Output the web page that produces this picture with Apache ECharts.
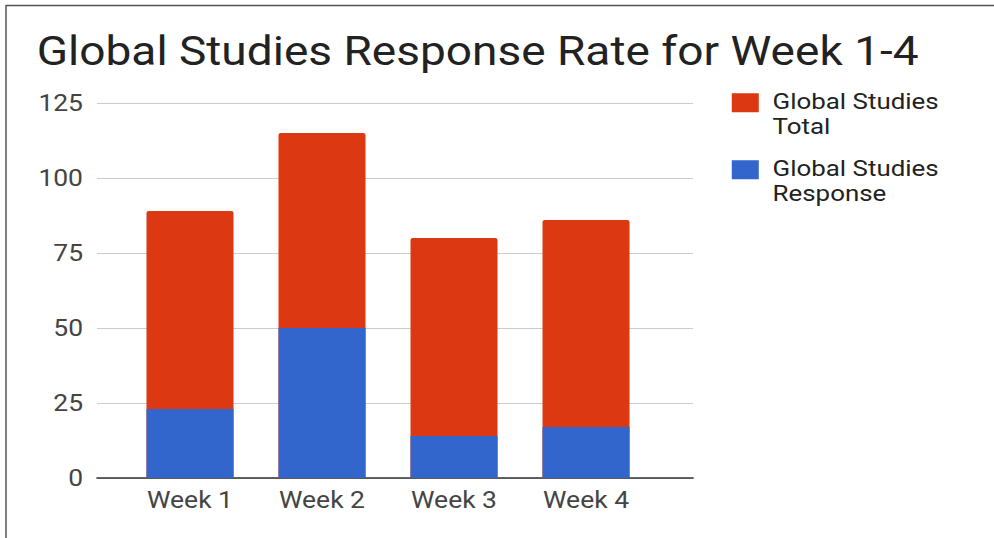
<!DOCTYPE html>
<html>
<head>
<meta charset="utf-8">
<script src="https://cdn.jsdelivr.net/npm/echarts@6/dist/echarts.min.js"></script>
<style>
  html, body { margin: 0; padding: 0; background: #fff; overflow: hidden; }
  /* the source screenshot is stretched sideways, so the chart is drawn narrower and widened */
  #chart { width: 864px; height: 538px; transform: scaleX(1.1505); transform-origin: 0 0; }
</style>
</head>
<body>
<div id="chart"></div>
<script>
// chart data
var weeks = ['Week 1', 'Week 2', 'Week 3', 'Week 4'];
var totalValues = [89, 115, 80, 86];
var responseValues = [23, 50, 14, 17];
var yTicks = [0, 25, 50, 75, 100, 125];

var S = 994 / 864;              // horizontal stretch
function px(x) { return x / S; } // page x -> chart x

var chart = echarts.init(document.getElementById('chart'), null, { renderer: 'svg' });
var font = 'Roboto, "Noto Sans", sans-serif';

// square at the top of a taller box, so the first legend line sits beside it
var legendIcon = 'path://M0,0H27V22H0Z M0,48L0.01,48Z';

var option = {
  animation: false,
  backgroundColor: '#fff',
  title: {
    text: 'Global Studies Response Rate for Week 1-4',
    left: px(31),
    top: 27,
    textStyle: { fontFamily: font, fontSize: 40, fontWeight: 'normal', color: '#222' }
  },
  legend: {
    orient: 'vertical',
    left: px(726),
    top: 84,
    itemWidth: px(27),
    itemHeight: 50,
    itemGap: 17,
    icon: legendIcon,
    data: ['Global Studies Total', 'Global Studies Response'],
    formatter: function (name) { return name.replace('Studies ', 'Studies\n'); },
    textStyle: { fontFamily: font, fontSize: 22.5, color: '#222', lineHeight: 25, padding: [0, 0, 0, 7] }
  },
  // wide grid carries the gridlines and tick labels, narrow grid carries the bars
  grid: [
    { left: px(97), top: 103, width: px(596), height: 375 },
    { left: px(124), top: 103, width: px(528), height: 375 }
  ],
  xAxis: [
    {
      gridIndex: 0, type: 'category', data: [''],
      axisLine: { show: true, lineStyle: { color: '#333', width: 1.5 } },
      axisTick: { show: false }, axisLabel: { show: false }
    },
    {
      gridIndex: 1, type: 'category', data: weeks,
      axisLine: { show: false }, axisTick: { show: false },
      axisLabel: { fontFamily: font, fontSize: 23, color: '#444', margin: 11 }
    }
  ],
  yAxis: [
    {
      gridIndex: 0, type: 'value', min: yTicks[0], max: yTicks[yTicks.length - 1], interval: 25,
      axisLine: { show: false }, axisTick: { show: false },
      axisLabel: { fontFamily: font, fontSize: 23, color: '#444', margin: px(14) },
      splitLine: { lineStyle: { color: '#ccc', width: 1 } }
    },
    {
      gridIndex: 1, type: 'value', min: yTicks[0], max: yTicks[yTicks.length - 1], interval: 25,
      show: false
    }
  ],
  series: [
    {
      name: 'Global Studies Total', type: 'bar', xAxisIndex: 1, yAxisIndex: 1,
      data: totalValues, barWidth: px(87), barGap: '-100%',
      itemStyle: { color: '#dc3912', borderRadius: [2, 2, 0, 0] }
    },
    {
      name: 'Global Studies Response', type: 'bar', xAxisIndex: 1, yAxisIndex: 1,
      data: responseValues, barWidth: px(87), barGap: '-100%',
      itemStyle: { color: '#3366cc' }
    }
  ],
  graphic: [
    { type: 'line', shape: { x1: px(6), y1: 5.5, x2: 864, y2: 5.5 }, style: { stroke: '#555', lineWidth: 1.5 } },
    { type: 'line', shape: { x1: px(6), y1: 5, x2: px(6), y2: 538 }, style: { stroke: '#555', lineWidth: 1.3 } }
  ]
};

chart.setOption(option);
</script>
</body>
</html>
